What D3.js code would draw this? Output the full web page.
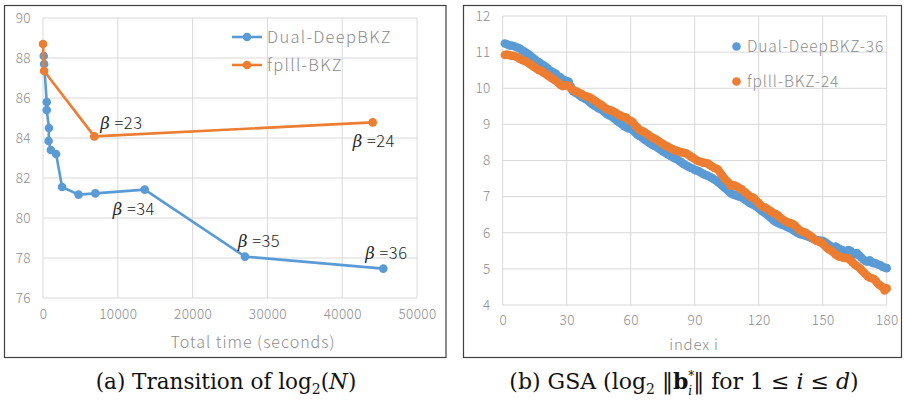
<!DOCTYPE html>
<html>
<head>
<meta charset="utf-8">
<script src="https://cdn.jsdelivr.net/npm/d3@7"></script>
<style>
  body { margin: 0; background: #fff; }
  svg { display: block; }
  .tick text { font-family: "Noto Sans CJK JP", "Noto Sans", sans-serif; font-weight: 300; fill: #8c8c8c; letter-spacing: 0.4px; }
</style>
</head>
<body>
<svg id="chart" width="904" height="401"></svg>
<script>
"use strict";

// ---- panel (a) data: total time (s) vs log2(N)
var deepTime = [100, 150, 500, 500, 800, 750, 1050, 1750, 2550, 4750, 7000, 13600, 27000, 45500];
var deepLogN = [88.1, 87.7, 85.8, 85.4, 84.5, 83.85, 83.4, 83.2, 81.55, 81.17, 81.23, 81.42, 78.07, 77.47];
var fplllTime = [0, 150, 6860, 44080];
var fplllLogN = [88.7, 87.35, 84.08, 84.78];
var betaLabels = [
  { series: "fplll", idx: 2, text: "23" },
  { series: "fplll", idx: 3, text: "24" },
  { series: "deep", idx: 11, text: "34" },
  { series: "deep", idx: 12, text: "35" },
  { series: "deep", idx: 13, text: "36" }
];
var xTicksA = [0, 10000, 20000, 30000, 40000, 50000];
var yTicksA = [76, 78, 80, 82, 84, 86, 88, 90];

// ---- panel (b) data: log2 ||b_i*|| for i = 1..180
var gsaDeep = [
  11.24, 11.22, 11.19, 11.18, 11.17, 11.15, 11.12, 11.10, 11.05, 11.02,
  10.98, 10.95, 10.90, 10.85, 10.80, 10.75, 10.72, 10.68, 10.64, 10.60,
  10.55, 10.50, 10.46, 10.43, 10.40, 10.33, 10.30, 10.25, 10.22, 10.20,
  10.18, 10.05, 9.92, 9.88, 9.85, 9.80, 9.76, 9.73, 9.70, 9.66,
  9.60, 9.56, 9.52, 9.48, 9.44, 9.42, 9.38, 9.33, 9.28, 9.25,
  9.22, 9.18, 9.13, 9.08, 9.04, 9.00, 8.95, 8.92, 8.89, 8.88,
  8.84, 8.78, 8.72, 8.68, 8.65, 8.60, 8.56, 8.52, 8.48, 8.44,
  8.41, 8.38, 8.34, 8.30, 8.26, 8.22, 8.18, 8.15, 8.12, 8.08,
  8.05, 8.02, 7.98, 7.94, 7.90, 7.86, 7.83, 7.80, 7.78, 7.74,
  7.72, 7.70, 7.66, 7.63, 7.60, 7.58, 7.55, 7.52, 7.48, 7.45,
  7.40, 7.35, 7.30, 7.25, 7.20, 7.14, 7.09, 7.06, 7.04, 7.02,
  7.00, 6.98, 6.94, 6.90, 6.86, 6.82, 6.79, 6.76, 6.72, 6.68,
  6.62, 6.58, 6.54, 6.50, 6.45, 6.40, 6.34, 6.30, 6.27, 6.24,
  6.22, 6.20, 6.17, 6.14, 6.12, 6.08, 6.04, 6.00, 5.97, 5.95,
  5.94, 5.92, 5.90, 5.88, 5.85, 5.82, 5.80, 5.79, 5.78, 5.78,
  5.74, 5.70, 5.66, 5.62, 5.60, 5.62, 5.58, 5.55, 5.52, 5.50,
  5.48, 5.52, 5.50, 5.44, 5.40, 5.44, 5.38, 5.32, 5.26, 5.22,
  5.20, 5.24, 5.18, 5.16, 5.15, 5.12, 5.10, 5.06, 5.04, 5.02
];
var gsaFplll = [
  10.92, 10.93, 10.92, 10.90, 10.90, 10.88, 10.85, 10.82, 10.78, 10.76,
  10.74, 10.70, 10.66, 10.62, 10.58, 10.54, 10.50, 10.48, 10.44, 10.40,
  10.36, 10.32, 10.28, 10.24, 10.20, 10.15, 10.10, 10.06, 10.08, 10.08,
  10.06, 10.00, 9.95, 9.92, 9.90, 9.87, 9.84, 9.80, 9.78, 9.76,
  9.74, 9.70, 9.66, 9.62, 9.58, 9.55, 9.50, 9.46, 9.42, 9.40,
  9.38, 9.35, 9.32, 9.28, 9.25, 9.22, 9.20, 9.18, 9.12, 9.10,
  9.06, 8.98, 8.92, 8.86, 8.82, 8.80, 8.76, 8.72, 8.68, 8.64,
  8.61, 8.58, 8.54, 8.50, 8.46, 8.42, 8.40, 8.36, 8.33, 8.30,
  8.28, 8.26, 8.24, 8.22, 8.21, 8.20, 8.16, 8.12, 8.08, 8.04,
  8.00, 7.98, 7.96, 7.94, 7.93, 7.92, 7.88, 7.84, 7.80, 7.78,
  7.74, 7.66, 7.58, 7.50, 7.44, 7.38, 7.30, 7.32, 7.30, 7.27,
  7.24, 7.20, 7.15, 7.10, 7.05, 7.00, 6.98, 6.95, 6.88, 6.82,
  6.76, 6.72, 6.70, 6.66, 6.62, 6.58, 6.54, 6.52, 6.48, 6.42,
  6.38, 6.34, 6.30, 6.28, 6.26, 6.24, 6.20, 6.14, 6.08, 6.04,
  6.02, 6.00, 5.96, 5.92, 5.88, 5.82, 5.78, 5.76, 5.74, 5.70,
  5.64, 5.58, 5.54, 5.50, 5.46, 5.40, 5.36, 5.34, 5.32, 5.30,
  5.30, 5.29, 5.24, 5.18, 5.12, 5.08, 5.04, 4.98, 4.92, 4.86,
  4.80, 4.76, 4.74, 4.72, 4.66, 4.58, 4.54, 4.50, 4.40, 4.46
];
var xTicksB = [0, 30, 60, 90, 120, 150, 180];
var yTicksB = [4, 5, 6, 7, 8, 9, 10, 11, 12];

var BLUE = "#5b9bd5";
var ORANGE = "#ed7d31";
var GRID = "#d9d9d9";
var SANS = "'Noto Sans CJK JP', 'Noto Sans', sans-serif";
var SERIF = "'DejaVu Serif', 'Liberation Serif', serif";

var svg = d3.select("#chart");

// frames
svg.append("rect").attr("x", 4.5).attr("y", 5.5).attr("width", 441.5).attr("height", 352)
  .attr("fill", "none").attr("stroke", "#404040").attr("stroke-width", 1.2);
svg.append("rect").attr("x", 463.5).attr("y", 5.5).attr("width", 438).attr("height", 352)
  .attr("fill", "none").attr("stroke", "#404040").attr("stroke-width", 1.2);

function gridAndAxes(g, x, y, xTicks, yTicks, xFmt, xLabelY) {
  var x0 = x.range()[0], x1 = x.range()[1], y0 = y.range()[0], y1 = y.range()[1];
  g.selectAll(".hg").data(yTicks).enter().append("line")
    .attr("x1", x0).attr("x2", x1).attr("y1", function (d) { return y(d); }).attr("y2", function (d) { return y(d); })
    .attr("stroke", GRID).attr("stroke-width", 1);
  g.selectAll(".vg").data(xTicks).enter().append("line")
    .attr("y1", y0).attr("y2", y1).attr("x1", function (d) { return x(d); }).attr("x2", function (d) { return x(d); })
    .attr("stroke", GRID).attr("stroke-width", 1);
  var yAxis = g.append("g").attr("class", "axis").attr("transform", "translate(" + (x0 - 12) + ",0)")
    .call(d3.axisLeft(y).tickValues(yTicks).tickSize(0).tickPadding(0));
  yAxis.select(".domain").remove();
  yAxis.selectAll("text").attr("font-size", 13.5);
  var xAxis = g.append("g").attr("class", "axis").attr("transform", "translate(0," + xLabelY + ")")
    .call(d3.axisBottom(x).tickValues(xTicks).tickFormat(xFmt).tickSize(0).tickPadding(0));
  xAxis.select(".domain").remove();
  xAxis.selectAll("text").attr("font-size", 13.5);
}

// ---------- panel (a)
var xA = d3.scaleLinear().domain([0, 50000]).range([43, 417]);
var yA = d3.scaleLinear().domain([76, 90]).range([298, 18]);
var gA = svg.append("g");
gridAndAxes(gA, xA, yA, xTicksA, yTicksA, d3.format("d"), 309);

var seriesA = [
  { key: "deep", name: "Dual-DeepBKZ", color: BLUE, xs: deepTime, ys: deepLogN },
  { key: "fplll", name: "fplll-BKZ", color: ORANGE, xs: fplllTime, ys: fplllLogN }
];
var lineA = d3.line().x(function (d) { return xA(d[0]); }).y(function (d) { return yA(d[1]); });
seriesA.forEach(function (s) {
  var pts = d3.zip(s.xs, s.ys);
  gA.append("path").datum(pts).attr("d", lineA).attr("fill", "none")
    .attr("stroke", s.color).attr("stroke-width", 2.6).attr("stroke-linejoin", "round");
  gA.selectAll(".pt-" + s.key).data(pts).enter().append("circle")
    .attr("cx", function (d) { return xA(d[0]); }).attr("cy", function (d) { return yA(d[1]); })
    .attr("r", 4.3).attr("fill", s.color);
});

// legend (a)
seriesA.forEach(function (s, i) {
  var ly = 37 + i * 28;
  gA.append("line").attr("x1", 232).attr("x2", 262).attr("y1", ly).attr("y2", ly)
    .attr("stroke", s.color).attr("stroke-width", 2.6);
  gA.append("circle").attr("cx", 247).attr("cy", ly).attr("r", 4.3).attr("fill", s.color);
  gA.append("text").attr("x", 267).attr("y", ly + 6).text(s.name)
    .attr("font-family", SANS).attr("font-weight", 300).attr("font-size", 16.5)
    .attr("letter-spacing", 1.3).attr("fill", "#8c8c8c");
});

// beta annotations
var labelOffsets = { "23": [6, -7], "24": [-20, 25], "34": [-32, 25], "35": [-7, -10], "36": [-18, -10] };
betaLabels.forEach(function (b) {
  var s = b.series === "deep" ? seriesA[0] : seriesA[1];
  var off = labelOffsets[b.text];
  var t = gA.append("text")
    .attr("x", xA(s.xs[b.idx]) + off[0]).attr("y", yA(s.ys[b.idx]) + off[1])
    .attr("font-family", SANS).attr("font-weight", 300).attr("font-size", 16.5)
    .attr("letter-spacing", 0.5).attr("fill", "#262626");
  t.append("tspan").attr("font-family", SERIF).attr("font-style", "italic").text("β");
  t.append("tspan").text(" =" + b.text);
});

gA.append("text").attr("x", 253).attr("y", 348).attr("text-anchor", "middle")
  .attr("font-family", SANS).attr("font-weight", 300).attr("font-size", 16).attr("letter-spacing", 1)
  .attr("fill", "#8c8c8c").text("Total time (seconds)");

// ---------- panel (b)
var xB = d3.scaleLinear().domain([0, 180]).range([502.7, 886.7]);
var yB = d3.scaleLinear().domain([4, 12]).range([305, 16]);
var gB = svg.append("g");
gridAndAxes(gB, xB, yB, xTicksB, yTicksB, d3.format("d"), 315);

var seriesB = [
  { key: "deep36", name: "Dual-DeepBKZ-36", color: BLUE, vals: gsaDeep },
  { key: "fplll24", name: "fplll-BKZ-24", color: ORANGE, vals: gsaFplll }
];
seriesB.forEach(function (s) {
  gB.selectAll(".d-" + s.key).data(s.vals).enter().append("circle")
    .attr("cx", function (d, i) { return xB(i + 1); }).attr("cy", function (d) { return yB(d); })
    .attr("r", 4.3).attr("fill", s.color);
});
seriesB.forEach(function (s, i) {
  var ly = 46.5 + i * 35;
  gB.append("circle").attr("cx", 736.5).attr("cy", ly).attr("r", 4.3).attr("fill", s.color);
  gB.append("text").attr("x", 747).attr("y", ly + 5.5).text(s.name)
    .attr("font-family", SANS).attr("font-weight", 300).attr("font-size", 15.5)
    .attr("letter-spacing", 0.9).attr("fill", "#8c8c8c");
});

gB.append("text").attr("x", 694).attr("y", 350).attr("text-anchor", "middle")
  .attr("font-family", SANS).attr("font-weight", 300).attr("font-size", 15).attr("letter-spacing", 0.8)
  .attr("fill", "#8c8c8c").text("index i");

// ---------- captions
var capA = svg.append("text").attr("x", 226).attr("y", 389).attr("text-anchor", "middle")
  .attr("font-family", SERIF).attr("font-size", 21.5).attr("fill", "#111");
capA.append("tspan").text("(a) Transition of log");
capA.append("tspan").attr("font-size", 14).attr("dy", 5).text("2");
capA.append("tspan").attr("dy", -5).text("(");
capA.append("tspan").attr("font-style", "italic").text("N");
capA.append("tspan").text(")");

var capB = svg.append("text").attr("x", 684).attr("y", 389).attr("text-anchor", "middle")
  .attr("font-family", SERIF).attr("font-size", 22).attr("fill", "#111");
capB.append("tspan").text("(b) GSA (log");
capB.append("tspan").attr("font-size", 14).attr("dy", 5).text("2");
capB.append("tspan").attr("dy", -5).text(" \u2016");
capB.append("tspan").attr("font-weight", "bold").text("b");
capB.append("tspan").attr("font-size", 12).attr("dy", -9).text("*");
capB.append("tspan").attr("font-size", 12).attr("font-style", "italic").attr("dx", -6).attr("dy", 15).text("i");
capB.append("tspan").attr("dy", -6).attr("dx", 1).text("\u2016 for 1 \u2264 ");
capB.append("tspan").attr("font-style", "italic").text("i");
capB.append("tspan").text(" \u2264 ");
capB.append("tspan").attr("font-style", "italic").text("d");
capB.append("tspan").text(")");
</script>
</body>
</html>
